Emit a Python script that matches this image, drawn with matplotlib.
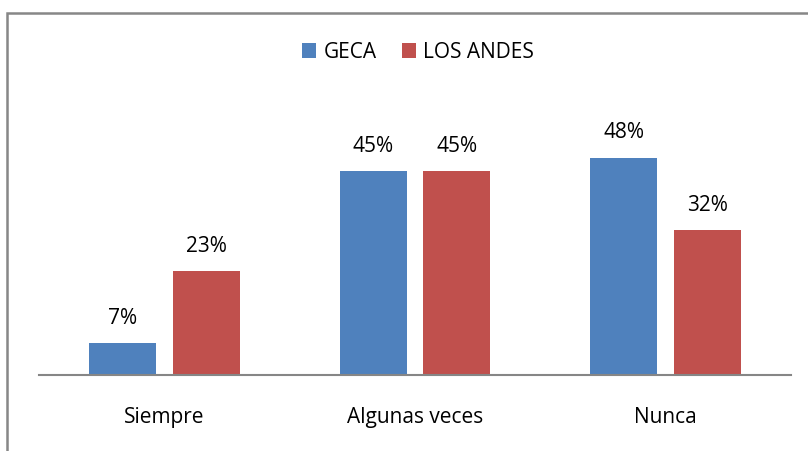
import numpy as np
import matplotlib
matplotlib.use("Agg")
import matplotlib.pyplot as plt
from matplotlib.patches import Rectangle

categories = ["Siempre", "Algunas veces", "Nunca"]
geca = [0.07, 0.45, 0.48]
los_andes = [0.23, 0.45, 0.32]
series_names = ["GECA", "LOS ANDES"]

BLUE = "#4F81BD"
RED = "#C0504D"

plt.rcParams["font.family"] = ["Open Sans", "DejaVu Sans"]

fig = plt.figure(figsize=(8.08, 4.52), dpi=100)
ax = fig.add_axes([39 / 808, 76 / 452, 752 / 808, 276 / 452])

x = np.arange(len(categories))
w = 0.267
off = 0.167
b1 = ax.bar(x - off, geca, w, color=BLUE, label=series_names[0])
b2 = ax.bar(x + off, los_andes, w, color=RED, label=series_names[1])

for bars, vals in ((b1, geca), (b2, los_andes)):
    for rect, v in zip(bars, vals):
        ax.annotate(f"{v:.0%}", (rect.get_x() + rect.get_width() / 2, v),
                    xytext=(0, 11), textcoords="offset points",
                    ha="center", va="bottom", fontsize=15)

ax.set_xlim(-0.5, 2.5)
ax.set_ylim(0, 276 / 4.53 / 100)
ax.set_xticks(x)
ax.set_xticklabels(categories, fontsize=15)
ax.tick_params(axis="x", length=0, pad=22)
ax.set_yticks([])
for s in ("top", "right", "left"):
    ax.spines[s].set_visible(False)
ax.spines["bottom"].set_color("#868686")
ax.spines["bottom"].set_linewidth(1.5)

fig.legend(loc="center", bbox_to_anchor=(418 / 808, 1 - 53 / 452), ncol=2,
           frameon=False, fontsize=15, handlelength=0.7, handleheight=0.7,
           handletextpad=0.35, columnspacing=1.2)

fig.patches.append(Rectangle((7 / 808, -0.1), 1.1, 1 - 14 / 452 + 0.1,
                             transform=fig.transFigure, fill=False,
                             edgecolor="#878787", linewidth=1.8))

fig.savefig("out.png", dpi=100)
